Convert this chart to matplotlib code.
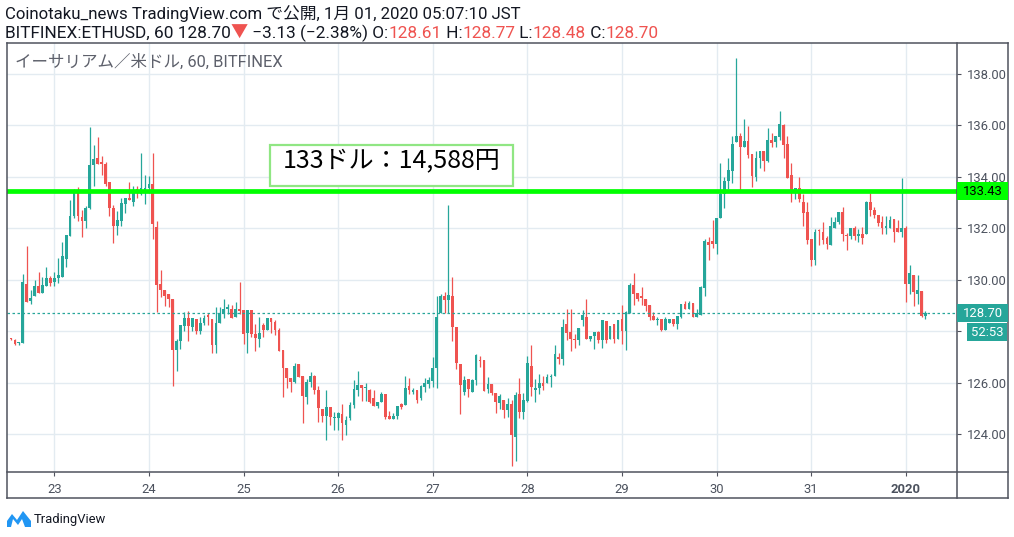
import numpy as np
import pandas as pd
import matplotlib
matplotlib.use("Agg")
import matplotlib.pyplot as plt
import matplotlib.transforms as mtransforms
from matplotlib.patches import Rectangle, Polygon
from matplotlib.lines import Line2D

W, H = 1014, 537

# hourly ETH/USD candles (BITFINEX, JST)
opens = [
    127.70, 127.66, 127.54, 127.53, 129.85, 129.17, 129.35, 129.75, 129.48, 129.75,
    130.06, 129.90, 130.06, 130.11, 130.81, 131.70, 132.46, 133.37, 132.45, 132.30,
    132.80, 134.46, 134.75, 134.57, 134.51, 133.78, 132.79, 132.09, 132.30, 132.95,
    133.19, 133.03, 133.53, 133.35, 133.40, 133.56, 133.74, 132.04, 129.82, 129.61,
    129.43, 129.27, 127.29, 127.63, 128.19, 128.52, 128.16, 128.47, 128.00, 128.31,
    128.62, 128.49, 127.45, 128.31, 128.67, 128.86, 128.88, 128.54, 128.86, 128.83,
    127.95, 128.83, 127.90, 127.71, 128.23, 128.05, 128.52, 128.36, 128.05, 127.27,
    126.57, 126.18, 126.03, 126.73, 126.26, 125.45, 126.03, 126.26, 125.71, 124.96,
    124.70, 125.04, 124.62, 124.62, 124.78, 124.36, 124.62, 125.12, 125.71, 125.90,
    125.79, 125.73, 125.39, 125.08, 125.26, 125.57, 124.71, 124.58, 124.69, 125.16,
    125.13, 125.86, 125.62, 125.70, 125.39, 125.83, 125.94, 126.06, 126.56, 128.69,
    129.36, 129.21, 129.36, 128.17, 126.71, 125.62, 126.14, 125.65, 126.12, 126.90,
    126.90, 125.75, 125.95, 125.61, 125.22, 125.32, 124.94, 125.17, 123.90, 125.56,
    124.86, 125.30, 126.65, 125.71, 125.79, 126.00, 126.00, 126.21, 126.26, 127.01,
    126.91, 128.29, 127.97, 127.71, 127.66, 128.42, 128.55, 127.71, 127.82, 127.97,
    127.66, 128.40, 127.68, 128.28, 127.70, 128.46, 128.02, 128.69, 129.78, 129.50,
    129.37, 129.24, 129.00, 128.59, 128.43, 128.48, 128.04, 128.33, 128.46, 128.28,
    128.56, 129.06, 128.85, 129.08, 128.54, 128.64, 129.68, 131.45, 131.50, 131.40,
    132.41, 133.35, 133.84, 134.23, 135.35, 135.58, 135.17, 135.38, 134.88, 134.00,
    134.73, 134.99, 134.60, 135.43, 135.35, 135.56, 136.00, 135.27, 134.08, 133.45,
    133.56, 133.01, 132.62, 131.58, 130.75, 131.95, 131.87, 131.61, 131.35, 132.03,
    132.26, 132.62, 131.74, 131.69, 132.03, 131.69, 131.79, 131.79, 133.01, 132.73,
    132.52, 132.26, 132.03, 132.03, 132.36, 132.00, 131.87, 132.00, 129.84, 130.18,
    129.45, 129.56, 128.61,
]
highs = [
    127.72, 127.69, 127.59, 130.21, 131.31, 129.59, 129.98, 130.29, 130.11, 130.50,
    130.15, 130.30, 130.84, 131.47, 131.73, 133.08, 133.52, 133.60, 132.72, 132.87,
    135.95, 135.22, 135.56, 134.80, 134.59, 133.78, 132.90, 132.69, 133.16, 133.19,
    133.81, 133.66, 133.66, 134.91, 134.08, 134.03, 134.91, 132.28, 130.37, 129.61,
    129.43, 129.27, 127.69, 128.23, 128.74, 128.78, 128.52, 128.47, 128.54, 128.62,
    128.70, 128.49, 128.93, 128.96, 129.27, 129.04, 129.01, 129.14, 129.90, 128.83,
    128.83, 128.83, 128.29, 128.55, 128.31, 128.52, 128.52, 128.44, 128.13, 127.27,
    126.57, 126.18, 126.75, 126.73, 126.26, 126.16, 126.42, 126.29, 125.87, 124.96,
    125.71, 125.04, 124.86, 124.88, 125.17, 124.70, 125.25, 126.10, 126.44, 125.90,
    125.97, 125.74, 125.70, 125.26, 125.65, 125.57, 124.90, 124.84, 125.10, 125.23,
    126.25, 126.17, 125.78, 125.70, 125.91, 126.17, 126.22, 127.00, 129.36, 129.44,
    129.52, 132.92, 130.09, 128.17, 126.71, 126.25, 126.14, 126.14, 127.10, 127.03,
    126.90, 126.24, 125.95, 125.61, 125.56, 125.32, 125.40, 125.32, 125.64, 126.18,
    125.61, 127.04, 127.45, 126.16, 126.34, 126.26, 126.34, 126.34, 127.48, 127.14,
    128.49, 128.86, 128.86, 127.90, 128.13, 128.81, 129.25, 127.82, 127.97, 128.00,
    128.44, 128.40, 128.20, 128.28, 128.43, 129.00, 128.80, 129.89, 130.25, 129.50,
    129.71, 129.24, 129.00, 128.74, 128.56, 128.48, 128.54, 128.46, 128.46, 128.59,
    129.06, 129.16, 129.16, 129.08, 128.87, 129.76, 131.60, 131.68, 132.33, 132.39,
    134.52, 134.00, 134.75, 135.58, 138.62, 135.69, 136.23, 135.97, 134.88, 134.99,
    134.99, 134.99, 135.90, 135.69, 135.58, 136.57, 136.05, 135.58, 134.52, 133.58,
    134.00, 133.35, 133.01, 131.58, 131.97, 131.97, 132.23, 131.69, 132.44, 132.44,
    132.62, 132.83, 131.82, 132.03, 132.08, 131.97, 132.05, 133.06, 133.38, 132.81,
    132.52, 132.49, 132.49, 132.49, 132.36, 132.31, 133.97, 132.10, 130.57, 130.18,
    130.18, 129.56, 128.77,
]
lows = [
    127.66, 127.48, 127.47, 127.53, 129.12, 129.04, 129.35, 129.48, 129.48, 129.75,
    129.77, 129.77, 129.88, 130.11, 130.50, 131.70, 132.39, 132.27, 131.67, 132.01,
    132.74, 133.63, 134.51, 134.07, 133.63, 132.46, 131.41, 131.75, 132.07, 132.61,
    133.08, 132.88, 133.19, 133.30, 132.96, 133.37, 131.57, 128.73, 129.33, 128.99,
    128.96, 125.88, 126.46, 127.32, 128.00, 127.61, 128.00, 127.89, 127.91, 128.26,
    128.26, 127.16, 127.16, 128.31, 128.52, 128.67, 128.52, 128.54, 128.67, 127.49,
    127.14, 127.77, 127.25, 127.40, 127.77, 128.05, 127.95, 127.87, 127.25, 125.45,
    125.79, 125.64, 125.97, 126.23, 124.44, 125.17, 125.84, 125.56, 124.49, 124.49,
    123.77, 124.36, 124.16, 124.16, 123.77, 123.97, 124.55, 125.01, 125.48, 125.30,
    125.30, 125.22, 125.08, 125.00, 125.26, 124.58, 124.58, 124.58, 124.58, 124.97,
    125.13, 125.55, 125.57, 125.21, 125.34, 125.62, 125.81, 125.83, 125.78, 128.69,
    128.71, 128.71, 127.62, 126.53, 124.77, 125.52, 125.44, 125.65, 125.91, 126.61,
    125.68, 125.61, 125.51, 124.83, 124.99, 124.62, 124.68, 122.75, 122.96, 124.62,
    124.60, 125.25, 125.48, 125.25, 125.56, 125.71, 125.97, 125.82, 126.26, 126.73,
    126.68, 127.66, 127.22, 127.35, 127.48, 128.21, 127.71, 127.61, 127.32, 127.56,
    127.36, 127.56, 127.68, 127.55, 127.70, 127.50, 127.26, 128.69, 129.03, 129.16,
    129.00, 128.80, 128.43, 128.43, 128.25, 128.02, 128.04, 128.33, 128.22, 128.09,
    128.51, 128.85, 128.85, 128.54, 128.54, 128.64, 129.37, 130.77, 131.24, 131.00,
    132.41, 132.80, 133.53, 133.77, 135.35, 133.45, 135.17, 134.73, 133.61, 133.82,
    134.36, 134.23, 134.58, 135.17, 135.14, 135.43, 134.73, 133.97, 133.01, 133.14,
    133.01, 132.10, 131.38, 130.55, 130.57, 131.35, 131.38, 131.19, 131.35, 132.00,
    132.16, 131.51, 131.17, 131.58, 131.53, 131.45, 131.40, 131.77, 132.49, 132.39,
    132.08, 131.79, 131.79, 132.03, 131.45, 131.87, 131.66, 129.14, 129.43, 128.99,
    129.06, 128.57, 128.48,
]
closes = [
    127.68, 127.50, 127.57, 129.93, 129.15, 129.28, 129.75, 129.48, 129.80, 130.06,
    129.88, 130.06, 130.19, 130.92, 131.73, 132.48, 133.37, 132.48, 132.30, 132.77,
    134.46, 134.70, 134.51, 134.49, 133.73, 132.79, 132.07, 132.33, 132.98, 133.19,
    133.08, 133.40, 133.37, 133.56, 133.56, 133.74, 132.15, 129.80, 129.59, 129.35,
    129.27, 127.29, 127.63, 128.23, 128.52, 128.19, 128.52, 128.00, 128.31, 128.52,
    128.54, 127.45, 128.31, 128.70, 128.86, 128.96, 128.52, 128.88, 128.80, 127.90,
    128.83, 127.90, 127.74, 127.92, 128.05, 128.52, 128.34, 128.03, 127.25, 126.57,
    126.18, 126.03, 126.65, 126.23, 125.48, 126.03, 126.26, 125.71, 125.01, 124.70,
    125.04, 124.68, 124.65, 124.81, 124.42, 124.57, 125.12, 125.74, 125.90, 125.79,
    125.82, 125.26, 125.08, 125.26, 125.57, 124.66, 124.58, 124.71, 125.10, 125.05,
    125.78, 125.70, 125.70, 125.31, 125.86, 125.99, 126.09, 126.56, 128.56, 129.36,
    129.21, 129.42, 128.17, 126.77, 125.91, 126.12, 125.75, 126.12, 127.08, 126.84,
    125.68, 125.94, 125.61, 125.25, 125.48, 124.94, 125.17, 123.97, 125.53, 124.86,
    125.32, 126.75, 125.84, 125.79, 126.00, 125.87, 126.21, 126.26, 127.12, 126.91,
    128.18, 127.95, 127.69, 127.64, 128.13, 128.62, 127.71, 127.82, 127.97, 127.66,
    128.44, 127.65, 128.20, 127.70, 128.43, 128.02, 128.74, 129.78, 129.45, 129.26,
    129.29, 128.98, 128.56, 128.43, 128.46, 128.04, 128.46, 128.46, 128.28, 128.59,
    129.06, 128.85, 129.08, 128.54, 128.69, 129.71, 131.50, 131.37, 131.40, 132.39,
    133.35, 133.84, 134.28, 135.27, 135.58, 135.17, 135.38, 134.86, 134.03, 134.73,
    134.99, 134.60, 135.43, 135.32, 135.58, 136.05, 135.25, 133.97, 133.45, 133.58,
    133.14, 132.60, 131.53, 130.75, 131.84, 131.90, 131.53, 131.40, 132.10, 132.26,
    132.62, 131.79, 131.69, 132.03, 131.69, 131.79, 131.64, 133.01, 132.70, 132.52,
    132.21, 132.03, 132.08, 132.34, 131.87, 131.87, 132.00, 129.84, 130.26, 129.53,
    129.61, 128.60, 128.70,
]
first_candle = "2019-12-22 13:00"
day_labels = ["23", "24", "25", "26", "27", "28", "29", "30", "31", "2020"]
price_ticks = [124, 126, 128, 130, 132, 134, 136, 138]
line_price = 133.43
last_price = 128.70
countdown = "52:53"
note = "133ドル：14,588円"

UP, DOWN = "#26a69a", "#ef5350"
GRID = "#e3ebf1"
FRAME = "#50535e"
TXT = "#4c525e"
JP = ["Roboto", "Noto Sans CJK JP", "DejaVu Sans"]

times = pd.date_range(first_candle, periods=len(opens), freq="h")
ref = pd.Timestamp("2019-12-23")
hrs = ((times - ref) / pd.Timedelta(hours=1)).to_numpy()
day_pos = ((pd.date_range("2019-12-23", periods=len(day_labels), freq="D") - ref)
           / pd.Timedelta(hours=1)).to_numpy()

o, h, l, c = map(np.array, (opens, highs, lows, closes))
col = np.where(c >= o, UP, DOWN)

fig = plt.figure(figsize=(W / 100, H / 100), dpi=100)
ax = fig.add_axes([7 / W, 1 - 472 / H, 950 / W, 429 / H])
ident = mtransforms.IdentityTransform()

ax.vlines(hrs, l, h, colors=col, lw=0.9, zorder=3)
body = np.maximum(np.abs(c - o), 0.04)
ax.bar(hrs, body, bottom=np.minimum(o, c), width=0.7, color=col, lw=0, zorder=4)

ax.axhline(line_price, color="#00ff00", lw=3.4, zorder=6)
ax.axhline(last_price, color=UP, lw=0.9, ls=(0, (2, 2)), zorder=5)

ax.set_xlim(-12, 229)
ax.set_ylim(122.53, 139.2)
ax.set_xticks(day_pos)
ax.set_xticklabels(day_labels)
ax.get_xticklabels()[-1].set_fontweight("bold")
ax.set_yticks(price_ticks)
# the 128.00 label sits under the countdown box, so it is left blank
ax.set_yticklabels(["" if p == 128 else f"{p:.2f}" for p in price_ticks])
ax.yaxis.tick_right()
ax.tick_params(axis="both", colors=FRAME, labelcolor=TXT, labelsize=9.4, length=3)
ax.tick_params(axis="y", pad=4)
ax.tick_params(axis="x", pad=5)
for lab in ax.get_xticklabels() + ax.get_yticklabels():
    lab.set_family("Roboto")
ax.grid(True, color=GRID, lw=1)
ax.set_axisbelow(True)
for s in ax.spines.values():
    s.set_visible(False)

# frame lines (pixel coords from top-left)
def frame_line(x0, y0, x1, y1):
    fig.add_artist(Line2D([x0, x1], [H - y0, H - y1], transform=ident, color=FRAME, lw=1.1))

frame_line(7, 43, 1008, 43)
frame_line(7, 498, 1008, 498)
frame_line(7, 43, 7, 498)
frame_line(1008, 43, 1008, 498)
frame_line(957, 43, 957, 498)
frame_line(7, 472, 1008, 472)

# price axis labels
def price_box(price, face, txt, tcol, x0=957, w=51, dy=0):
    yd = ax.transData.transform((0, price))[1] + dy
    fig.add_artist(Rectangle((x0, yd - 9), w, 18, transform=ident, facecolor=face,
                             edgecolor="none", zorder=5))
    fig.text(x0 + w / 2, yd, txt, transform=ident, color=tcol, ha="center",
             va="center", fontsize=9.4, family="Roboto", zorder=6)

price_box(line_price, "#00ff00", f"{line_price:.2f}", "black")
price_box(last_price, UP, f"{last_price:.2f}", "white")
price_box(last_price, UP, countdown, "white", x0=967, w=40, dy=-19)

# header text
def text_run(x, y, parts, size):
    r = fig.canvas.get_renderer()
    bar = fig.text(0, 0, "|", fontsize=size, family=JP)
    wbar = bar.get_window_extent(r).width
    bar.remove()
    prefix = ""
    for s, cl in parts:
        if prefix:
            t = fig.text(0, 0, prefix + "|", fontsize=size, family=JP)
            dx = t.get_window_extent(r).width - wbar
            t.remove()
        else:
            dx = 0
        fig.text(x + dx, H - y, s, transform=ident, color=cl, fontsize=size,
                 family=JP, va="center", ha="left")
        prefix += s

text_run(5, 14, [("Coinotaku_news TradingView.com で公開, 1月 01, 2020 05:07:10 JST", "#131722")], 12.1)
text_run(5, 33, [("BITFINEX:ETHUSD, 60 128.70", "#131722"), ("▼", DOWN),
                 (" −3.13 (−2.38%) O:", "#131722"), ("128.61", DOWN), (" H:", "#131722"),
                 ("128.77", DOWN), (" L:", "#131722"), ("128.48", DOWN), (" C:", "#131722"),
                 ("128.70", DOWN)], 12.4)

fig.text(15, H - 62, "イーサリアム／米ドル, 60, BITFINEX", transform=ident, color="#5d606b",
         fontsize=11.9, family=JP, va="center")

# note box
fig.add_artist(Rectangle((270, H - 186), 243, 41, transform=ident, facecolor="white",
                         edgecolor="#90e683", lw=1.6, zorder=7))
fig.text(392, H - 161, note, transform=ident, color="black", fontsize=18,
         family=["Noto Sans CJK JP", "DejaVu Sans"], ha="center", va="center", zorder=8)

# TradingView logo
logo = [(7, 527), (7, 521), (12, 514), (17, 520), (23, 511), (31, 521), (31, 527), (25, 527),
        (22, 519), (18, 525), (13, 519), (11, 527)]
fig.add_artist(Polygon([(x, H - y) for x, y in logo], closed=True, transform=ident,
                       facecolor="#2196f3", edgecolor="none"))
fig.text(34, H - 519, "TradingView", transform=ident, color="#131722", fontsize=9.4,
         family="Roboto", va="center")

fig.savefig("out.png", dpi=100)
